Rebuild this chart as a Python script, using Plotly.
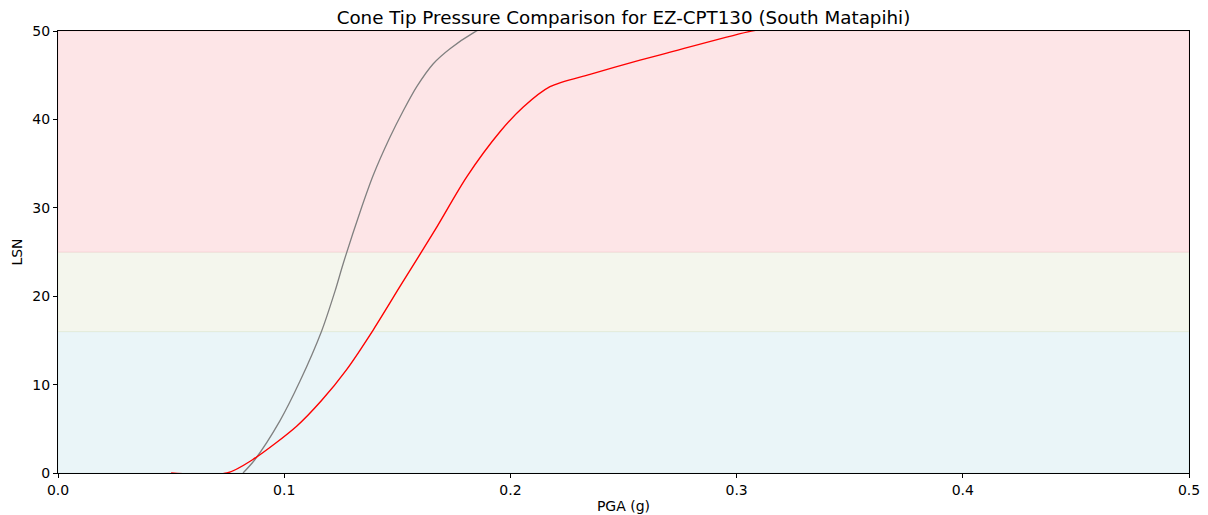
import plotly.graph_objects as go

# Data
gray_pga = [0.0818, 0.087, 0.0981, 0.107, 0.1166, 0.1225, 0.1261, 0.1335, 0.1394, 0.1468,
            0.1527, 0.1586, 0.1659, 0.1733, 0.1843, 0.195]
gray_lsn = [0.0, 1.5, 5.9, 10.4, 16.1, 20.6, 23.7, 29.5, 33.7, 38.0,
            41.0, 43.7, 46.3, 48.0, 49.9, 51.3]

red_pga = [0.05, 0.0747, 0.086, 0.1055, 0.1165, 0.1276, 0.1394, 0.1512, 0.1667, 0.1807, 0.1954,
           0.2057, 0.2175, 0.2352, 0.2573, 0.2691, 0.305, 0.320]
red_lsn = [0.0, 0.0, 1.5, 5.3, 8.2, 11.7, 16.2, 21.1, 27.5, 33.5, 38.6,
           41.4, 43.7, 45.1, 46.7, 47.5, 49.9, 50.6]

bands = [(0, 16, "#eaf5f8", "#d9e8ea"), (16, 25, "#f4f6ed", "#e3ead6"), (25, 50, "#fde5e7", "#f6d2d6")]

fig = go.Figure()
fig.add_trace(go.Scatter(x=gray_pga, y=gray_lsn, mode="lines",
                         line=dict(color="#808080", width=1.3, shape="spline", smoothing=0.8),
                         showlegend=False))
fig.add_trace(go.Scatter(x=red_pga, y=red_lsn, mode="lines",
                         line=dict(color="#ff0000", width=1.4, shape="spline", smoothing=0.8),
                         showlegend=False))

for y0, y1, fc, lc in bands:
    fig.add_shape(type="rect", xref="x", yref="y", x0=0, x1=0.5, y0=y0, y1=y1,
                  fillcolor=fc, line=dict(color=lc, width=0.8), layer="below")

axis_common = dict(showgrid=False, zeroline=False, showline=True, linecolor="black", linewidth=1,
                   mirror=True, ticks="outside", ticklen=4, tickcolor="black", automargin=False,
                   tickfont=dict(family="DejaVu Sans", size=14, color="black"))

# The page body adds an 8px margin around the figure; size the figure to fit the window.
fig.update_layout(
    width=1200, height=507,
    margin=dict(l=50, r=19, t=23, b=42, autoexpand=False),
    paper_bgcolor="white", plot_bgcolor="white",
    title=dict(text="Cone Tip Pressure Comparison for EZ-CPT130 (South Matapihi)", x=0.5,
               xanchor="center", xref="paper", y=1 - 10 / 507, yanchor="middle",
               font=dict(family="DejaVu Sans", size=18.3, color="black")),
    xaxis=dict(range=[0, 0.5], tickvals=[0, 0.1, 0.2, 0.3, 0.4, 0.5],
               ticktext=["0.0", "0.1", "0.2", "0.3", "0.4", "0.5"],
               title=dict(text="PGA (g)", font=dict(family="DejaVu Sans", size=14, color="black"), standoff=4),
               **axis_common),
    yaxis=dict(range=[0, 50], tickvals=[0, 10, 20, 30, 40, 50],
               title=dict(text="LSN", font=dict(family="DejaVu Sans", size=14, color="black"), standoff=6),
               **axis_common),
)

fig.write_html("out.html")
